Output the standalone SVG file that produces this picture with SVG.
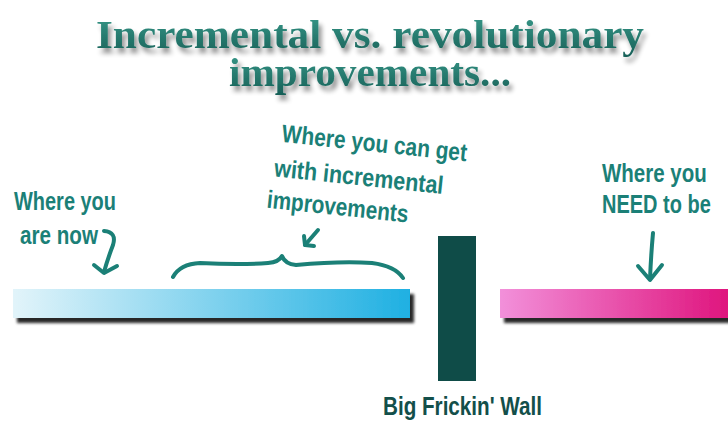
<svg xmlns="http://www.w3.org/2000/svg" width="728" height="429" viewBox="0 0 728 429">
<defs>
<linearGradient id="gBlue" x1="0" y1="0" x2="1" y2="0"><stop offset="0" stop-color="#e2f4fa"/><stop offset="1" stop-color="#1fb0e2"/></linearGradient>
<linearGradient id="gPink" x1="0" y1="0" x2="1" y2="0"><stop offset="0" stop-color="#f290da"/><stop offset="1" stop-color="#de0f79"/></linearGradient>
<linearGradient id="gTitle" x1="0" y1="0" x2="0" y2="1"><stop offset="0" stop-color="#3a9c8c"/><stop offset="1" stop-color="#175f57"/></linearGradient>
<filter id="shBar" x="-5%" y="-50%" width="110%" height="220%"><feGaussianBlur in="SourceAlpha" stdDeviation="1.8"/><feOffset dx="4" dy="5"/><feComponentTransfer><feFuncA type="linear" slope="0.85"/></feComponentTransfer><feMerge><feMergeNode/><feMergeNode in="SourceGraphic"/></feMerge></filter>
<filter id="shTitle" x="-5%" y="-20%" width="110%" height="160%"><feGaussianBlur in="SourceAlpha" stdDeviation="2.5"/><feOffset dx="3" dy="5"/><feComponentTransfer><feFuncA type="linear" slope="0.45"/></feComponentTransfer><feMerge><feMergeNode/><feMergeNode in="SourceGraphic"/></feMerge></filter>
</defs>
<style>
.title{font-family:"Liberation Serif","DejaVu Serif",serif;font-size:40px;font-weight:bold;fill:url(#gTitle);}
.hand{font-family:"Liberation Sans Narrow","Liberation Sans",sans-serif;font-size:25px;font-weight:bold;fill:#1b8077;}
.wall-lbl{font-family:"Liberation Sans Narrow","Liberation Sans",sans-serif;font-size:25px;font-weight:bold;fill:#134f4a;}
.conn{fill:none;stroke:#1b8077;stroke-width:4;stroke-linecap:round;stroke-linejoin:round;}
</style>
<rect width="728" height="429" fill="#ffffff"/>
<g id="title" filter="url(#shTitle)">
<text class="title" x="96" y="48" textLength="548" lengthAdjust="spacingAndGlyphs">Incremental vs. revolutionary</text>
<text class="title" x="229" y="86" textLength="282" lengthAdjust="spacingAndGlyphs">improvements...</text>
</g>
<g id="now">
<rect x="13" y="289" width="397" height="29" fill="url(#gBlue)" filter="url(#shBar)"/>
<text class="hand" x="14" y="210" textLength="102" lengthAdjust="spacingAndGlyphs">Where you</text>
<text class="hand" x="20" y="244" textLength="78" lengthAdjust="spacingAndGlyphs">are now</text>
</g>
<g id="incremental">
<g transform="rotate(6 283 143)">
<text class="hand" x="281" y="142" textLength="186" lengthAdjust="spacingAndGlyphs">Where you can get</text>
<text class="hand" x="277" y="177" textLength="170" lengthAdjust="spacingAndGlyphs">with incremental</text>
<text class="hand" x="273" y="209" textLength="142" lengthAdjust="spacingAndGlyphs">improvements</text>
</g>
</g>
<g id="wall">
<rect x="438" y="236" width="38" height="145" fill="#0f4c48"/>
<text class="wall-lbl" x="383" y="415" textLength="159" lengthAdjust="spacingAndGlyphs">Big Frickin' Wall</text>
</g>
<g id="need">
<rect x="500" y="289" width="240" height="29" fill="url(#gPink)" filter="url(#shBar)"/>
<text class="hand" transform="translate(602 182) scale(0.82 1)" x="0" y="0">Where you</text>
<text class="hand" transform="translate(602 213) scale(0.8 1)" x="0" y="0">NEED to be</text>
</g>
<g id="connectors">
<path class="conn" d="M104,231 Q117,232 113,245 Q108,258 104,272"/>
<path class="conn" d="M94,265 L104,273 L117,266"/>
<path class="conn" d="M318,230 L305,245"/>
<path class="conn" d="M304,236 L305,245 L314,246"/>
<path class="conn" d="M173,277 Q180,264 200,263 Q240,265 268,263 Q279,262 282,256 Q285,264 296,265 Q340,261 372,263 Q395,266 403,278" stroke-width="3"/>
<path class="conn" d="M653,233 Q651,255 650,279"/>
<path class="conn" d="M638,266 L650,280 L662,265"/>
</g>
</svg>
